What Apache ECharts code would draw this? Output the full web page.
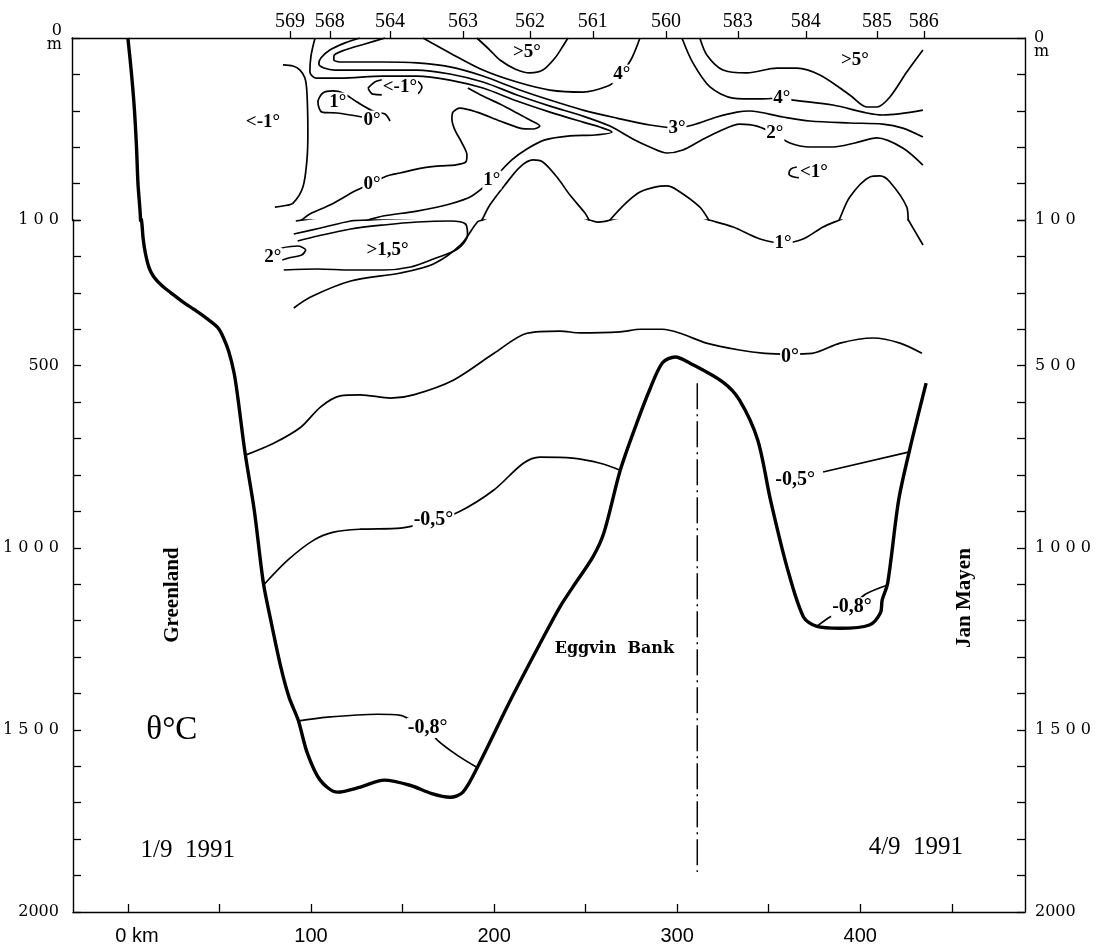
<!DOCTYPE html>
<html><head><meta charset="utf-8">
<script src="https://cdn.jsdelivr.net/npm/echarts@6/dist/echarts.min.js"></script>
<style>html,body{margin:0;padding:0;background:#fff}#c{width:1096px;height:947px}</style>
</head><body><div id="c"></div>
<script>
// ---- axis data ----
const stationKm = [88.9, 110.7, 143.5, 183.3, 219.9, 254.2, 294.1, 333.3, 370.4, 409.2, 434.8];
const stationNames = ['569', '568', '564', '563', '562', '561', '560', '583', '584', '585', '586'];
const distanceTicks = [0, 50, 100, 150, 200, 250, 300, 350, 400, 450];
const distanceLabels = [0, 100, 200, 300, 400];
const depthLabelValues = [100, 500, 1000, 1500, 2000];
const leftDepthLabels = ['1 0 0', '500', '1 0 0 0', '1 5 0 0', '2000'];
const rightDepthLabels = ['1 0 0', '5 0 0', '1 0 0 0', '1 5 0 0', '2000'];

// ---- bottom topography (km, m) ----
const bathymetry = [[0.5,0],[2.5,20],[4.1,40],[5.2,60],[6.0,80],[7.4,100],[8.3,150],[9.5,190],[11.5,230],[14,255],[18.5,280],[23.5,300],[30,325],[36,345],[43,370],[49,395],[52,421],[55,460],[58,520],[60,586],[64,740],[69,896],[74,1097],[78,1198],[83.5,1327],[88,1410],[93,1473],[98,1564],[105,1638],[114.5,1671],[127,1657],[140,1638],[154,1652],[166,1675],[176,1685],[183,1671],[191,1602],[209,1418],[227,1245],[236,1162],[243,1108],[254,1025],[260,959],[269,786],[278,657],[285,566],[292,492],[299,476],[307,493],[325,545],[334,594],[344,704],[351,869],[360,1053],[369,1190],[376,1215],[389,1221],[405,1212],[411,1179],[412,1143],[415,1097],[421,869],[427,731],[436,548]];
const stationDivider = [[311,548],[311,1890]];

// ---- isotherms (km, m) ----
const iso0Deep = [[64.5,745],[79.6,713],[94.4,669],[105.3,613],[116,583],[127,580],[143.5,589],[156,580],[178,539],[200,466],[218,411],[236,405],[247,410],[269,407],[280,400],[292,400],[301.7,411],[316,438],[334,457],[348,466],[361,468],[373.7,466],[389,438],[407,424],[421.7,438],[433.7,466]];
const isoM05West = [[74.5,1100],[87.3,1034],[101.5,979],[112.4,957],[127,949],[149,946],[167,925],[180.6,902],[199.7,842],[216,768],[225,751],[243,754],[258,768],[269,787]];
const isoM05East = [[379.7,792],[427.5,736]];
const isoM08West = [[92.5,1476],[109,1465],[136.4,1457],[149,1460],[152.8,1468],[163.7,1495],[169,1528],[180,1570],[191,1604]];
const isoM08East = [[415,1102],[403,1127],[395.5,1160],[383.5,1190],[377,1213]];

const coldBracket = [[85.1,14.8],[90.6,15.4],[94.4,17.6],[97.1,22.0],[98.2,30.2],[98.7,52.2],[98.2,67.0],[96.0,81.9],[90.6,90.7],[85.1,92.3],[80.7,92.9]];
const iso0Loop = [[128.2,43.4],[114.6,41.2],[106.4,40.7],[104.2,35.2],[106.9,30.2],[112.4,29.1],[117.8,30.2],[125.5,35.2],[134.2,40.1],[140.8,41.8],[143.5,45.6]];
const coldEllipse = [[131.5,27.5],[136.4,23.6],[148.9,22.5],[158.2,23.6],[160.9,26.9],[158.2,30.8],[147.3,31.3],[134.2,30.8],[131.5,27.5]];
const warm5West = [[190.9,0],[198.0,6.6],[203.5,12.1],[211.7,17.0],[219.9,19.2],[226.9,17.6],[233.5,11.0],[237.9,4.4],[240.6,0]];
const iso4West = [[161.5,0],[176.2,8.2],[194.2,17.6],[212.8,24.2],[230.8,28.6],[248.8,29.7],[262.4,26.4],[267.3,22.5],[274.9,12.1],[279.9,0]];
const iso3 = [[140.8,0],[129.8,3.3],[118.9,6.6],[112.9,9.9],[112.9,12.1],[117.3,13.2],[127.1,13.2],[139.7,13.2],[158.2,13.7],[176.2,15.9],[194.2,20.9],[212.8,28.0],[230.8,34.1],[248.8,39.6],[267.3,44.0],[285.3,47.8],[300.1,49.5],[308.8,47.8],[321.9,43.4],[332.8,40.7],[339.9,40.1],[357.9,43.4],[372.6,45.6],[394.4,46.7],[412.4,47.3],[423.3,49.5],[434.3,54.4]];
const iso2 = [[127.1,0],[119.0,2.7],[110.7,6.6],[105.8,11.0],[104.7,14.3],[107.5,16.5],[113.5,17.6],[121.7,17.6],[139.7,17.6],[158.2,17.6],[176.2,19.8],[194.2,24.2],[212.8,31.3],[230.8,37.4],[248.8,42.9],[263.5,48.4],[276.0,55.5],[285.3,59.9],[294.6,63.2],[303.3,61.5],[312.6,56.6],[323.5,51.1],[334.4,47.3],[343.7,48.4],[353.5,52.7],[361.7,57.7],[372.6,59.9],[385.2,59.9],[397.2,57.7],[409.2,54.9],[423.3,60.4],[434.3,69.8]];
const iso1Upper = [[102.6,0],[100.4,9.9],[99.8,18.7],[103.1,22.0],[116.2,22.0],[139.7,20.9],[158.2,20.9],[176.2,23.1],[194.2,27.5],[212.8,34.6],[230.8,40.7],[248.8,46.2],[258.0,48.9],[264.6,51.6],[255.3,53.3],[241.7,53.8],[228.0,56.0],[218.2,61.0],[210.0,67.0],[199.1,78.0],[188.2,86.8],[176.2,91.2],[158.2,95.1],[139.7,97.8],[131.6,100],[121.7,102.7],[105.3,121.9],[90.6,138.4]];
const iso0Upper = [[186.0,27.5],[194.2,31.9],[203.5,36.3],[212.8,41.2],[219.9,45.1],[225.3,48.4],[221.5,50.0],[214.4,49.5],[203.5,45.6],[190.9,40.7],[181.7,38.5],[177.9,40.7],[177.3,44.5],[178.9,50.5],[182.8,57.7],[185.5,64.3],[184.9,68.1],[178.9,69.8],[170.8,70.3],[161.5,71.4],[148.9,74.2],[141.8,75.8],[133.7,79.7],[124.4,84.1],[110.7,91.8],[99.8,96.7],[95.3,100],[91.7,102.7]];
const warm15 = [[92.7,157.7],[103.7,143.9],[121.7,124.7],[139.7,113.7],[158.2,105.5],[176.2,102.7],[184.4,111.0],[185.5,141.2],[180.0,179.6],[166.9,207.1],[154.4,229.0],[139.7,237.3],[121.7,237.3],[103.7,234.5],[85.1,237.3]];
const iso2Small = [[83.5,176.9],[92.7,171.4],[97.1,182.4],[94.9,196.1],[87.8,204.3],[82.4,212.6]];
const iso1Lower = [[90.6,341.6],[99.8,311.4],[121.7,267.5],[148.9,245.5],[166.9,220.8],[181.7,168.6],[190.9,105.5],[193.7,100],[198.0,91.8],[206.2,80.8],[214.4,70.9],[221.5,67.0],[226.9,68.1],[234.6,76.4],[241.7,86.3],[249.9,96.2],[252.2,100],[257.0,106],[260.5,104],[263.5,100],[272.2,90.7],[279.9,84.6],[288.0,81.9],[294.6,81.3],[300.1,83.5],[312.6,92.9],[317.5,100],[330.6,119.2],[345.3,152.2],[357.9,163.2],[368.8,152.2],[379.7,119.2],[388.6,100],[394.4,87.4],[405.3,76.4],[410.8,75.8],[416.3,79.1],[425.5,92.9],[426.3,100],[434.3,168.6]];
const iso4East = [[302.8,0],[308.8,13.7],[318.1,26.9],[330.6,33.0],[345.3,33.5],[357.3,33.0],[363.3,34.1],[385.2,36.8],[403.7,41.2],[412.4,42.3],[434.3,39.6]];
const warm5East = [[312.6,0],[316.4,9.3],[325.2,17.6],[338.3,19.2],[354.6,16.5],[365.5,16.5],[378.1,20.3],[394.4,31.3],[403.7,37.9],[409.2,37.9],[416.3,32.4],[425.5,18.7],[434.3,6.6]];
const cold1Curl = [[365.5,70.9],[362.2,72.0],[361.2,74.7],[363.9,76.4],[367.7,76.9]];

// ---- isotherm labels (km, m, text) ----
const contourLabels = [[74.2,46.2,'<-1°'],[115.1,35.2,'1°'],[133.7,45.1,'0°'],[148.9,26.9,'<-1°'],[218.2,7.7,'>5°'],[270.0,19.8,'4°'],[300.1,49.5,'3°'],[353.5,52.2,'2°'],[397.2,12.1,'>5°'],[357.3,33.0,'4°'],[374.8,73.6,'<1°'],[199.1,78.0,'1°'],[133.7,80.2,'0°'],[141.8,182.4,'>1,5°'],[79.1,201.6,'2°'],[357.9,163.2,'1°'],[361.7,476,'0°'],[166.9,924,'-0,5°'],[364.4,814,'-0,5°'],[163.7,1495,'-0,8°'],[395.5,1163,'-0,8°']];

// ---- annotations (km, m, text) ----
const noteGreenland = [24.5, 1130, 'Greenland'];
const noteJanMayen = [457, 1138, 'Jan Mayen'];
const noteEggvin = [265.7, 1278, 'Eggvin  Bank'];
const noteTheta = [24, 1500, 'θ°C'];
const noteDateWest = [32.7, 1830, '1/9  1991'];
const noteDateEast = [430.4, 1822, '4/9  1991'];

// ---- chart ----
const INK = '#000';
const SERIF = "'Liberation Serif','Times New Roman',serif";
const DSERIF = "'DejaVu Serif',serif";
const NARROW = "'Liberation Sans Narrow','Liberation Sans',sans-serif";
const X_MIN = -30, X_MAX = 490;

function pair(data, style, smooth) {
  return [0, 1].map(g => ({
    type: 'line', xAxisIndex: g, yAxisIndex: g === 0 ? 0 : 2, data: data,
    smooth: smooth === undefined ? 0.3 : smooth, symbol: 'none', showSymbol: false,
    clip: true, silent: true, z: 3,
    lineStyle: Object.assign({ color: INK, width: 1.7 }, style || {})
  }));
}

const series = [];
series.push(...pair(bathymetry, { width: 3.4 }, 0.3));
series.push(...pair(stationDivider, { width: 1.5, type: [26, 5, 2, 5] }, false));
[iso0Deep, isoM05West, isoM05East, isoM08West, isoM08East, coldBracket, iso0Loop, coldEllipse,
 warm5West, iso4West, iso3, iso2, iso1Upper, iso0Upper, warm15, iso2Small, iso1Lower,
 iso4East, warm5East, cold1Curl].forEach(d => series.push(...pair(d)));

function labelItems(list, upper) {
  return list.filter(l => upper ? l[1] < 100 : l[1] >= 100)
    .map(l => ({ value: [l[0], l[1]], name: l[2],
      label: { fontSize: l[1] > 300 ? 20 : 19 } }));
}
[0, 1].forEach(g => {
  series.push({
    type: 'scatter', xAxisIndex: g, yAxisIndex: g === 0 ? 0 : 2, symbolSize: 0,
    itemStyle: { color: '#fff', opacity: 1 }, silent: true, z: 10,
    data: labelItems(contourLabels, g === 0),
    label: { show: true, position: 'inside', formatter: '{b}', color: INK, opacity: 1,
      fontFamily: SERIF, fontWeight: 'bold', fontSize: 19,
      backgroundColor: '#fff', padding: [0, 1] }
  });
});

function note(n, lbl) {
  return { value: [n[0], n[1]], name: n[2], label: Object.assign({ show: true, position: 'inside', formatter: '{b}', color: INK, opacity: 1 }, lbl) };
}
series.push({
  type: 'scatter', xAxisIndex: 1, yAxisIndex: 2, symbolSize: 0,
  itemStyle: { color: '#fff', opacity: 1 }, silent: true, z: 11,
  data: [
    note(noteGreenland, { rotate: 90, fontFamily: SERIF, fontWeight: 'bold', fontSize: 21 }),
    note(noteJanMayen, { rotate: 90, fontFamily: SERIF, fontWeight: 'bold', fontSize: 21 }),
    note(noteEggvin, { fontFamily: DSERIF, fontWeight: 'bold', fontSize: 16 }),
    note(noteTheta, { fontFamily: SERIF, fontSize: 33 }),
    note(noteDateWest, { fontFamily: SERIF, fontSize: 25 }),
    note(noteDateEast, { fontFamily: SERIF, fontSize: 25 })
  ]
});

const axisLine = { show: true, onZero: false, lineStyle: { color: INK, width: 1.4 } };
const tickStyle = { color: INK, width: 1.3 };

function depthAxis(g, pos, upper) {
  const a = {
    gridIndex: g, type: 'value', position: pos, inverse: true,
    min: upper ? 0 : 100, max: upper ? 100 : 2000, interval: upper ? 20 : 100,
    axisLine: axisLine, splitLine: { show: false },
    axisTick: { show: true, inside: true, length: 8, lineStyle: tickStyle }
  };
  if (upper) {
    a.axisLabel = {
      show: true, customValues: [0], margin: pos === 'left' ? 10 : 9,
      formatter: () => '{a|0}\n{b|m}',
      padding: pos === 'left' ? [0, 0, 0, 0] : [14, 0, 0, 0],
      rich: { a: { fontFamily: DSERIF, fontSize: 16, lineHeight: 14, color: INK },
              b: { fontFamily: DSERIF, fontSize: 16, lineHeight: 14, color: INK } }
    };
  } else {
    const names = pos === 'left' ? leftDepthLabels : rightDepthLabels;
    a.axisLabel = {
      show: true, customValues: depthLabelValues, margin: pos === 'left' ? 14 : 10,
      formatter: v => names[depthLabelValues.indexOf(v)],
      fontFamily: DSERIF, fontSize: 16, color: INK
    };
  }
  return a;
}

const option = {
  animation: false,
  backgroundColor: '#fff',
  grid: [
    { left: 72, right: 71, top: 38, height: 182, containLabel: false },
    { left: 72, right: 71, top: 220, height: 692, containLabel: false }
  ],
  xAxis: [
    { gridIndex: 0, type: 'value', position: 'top', min: X_MIN, max: X_MAX,
      axisLine: axisLine, splitLine: { show: false },
      axisTick: { show: true, customValues: stationKm, inside: false, length: 7, lineStyle: tickStyle },
      axisLabel: { show: true, customValues: stationKm, margin: 6,
        formatter: v => stationNames[stationKm.indexOf(v)],
        fontFamily: SERIF, fontSize: 20, color: INK } },
    { gridIndex: 1, type: 'value', position: 'bottom', min: X_MIN, max: X_MAX,
      axisLine: axisLine, splitLine: { show: false },
      axisTick: { show: true, customValues: distanceTicks, inside: true, length: 8, lineStyle: tickStyle },
      axisLabel: { show: true, customValues: distanceLabels, margin: 14,
        formatter: v => v === 0 ? '{z|0 km}' : '{n|' + v + '}',
        rich: { z: { fontFamily: NARROW, fontSize: 20, color: INK, padding: [0, 0, 0, 18] },
                n: { fontFamily: NARROW, fontSize: 20, color: INK } } } }
  ],
  yAxis: [
    depthAxis(0, 'left', true),
    depthAxis(0, 'right', true),
    depthAxis(1, 'left', false),
    depthAxis(1, 'right', false)
  ],
  series: series
};

const chart = echarts.init(document.getElementById('c'), null, { renderer: 'canvas' });
chart.setOption(option);
</script>
</body></html>
